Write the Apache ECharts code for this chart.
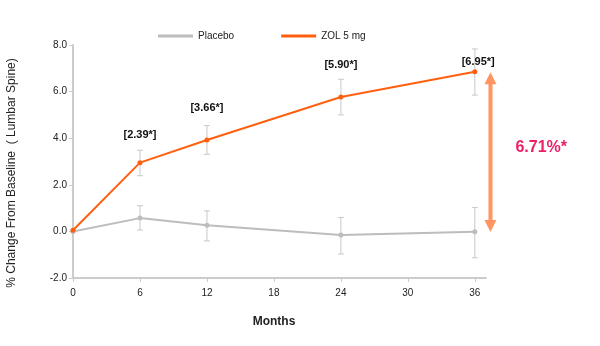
<!DOCTYPE html>
<html><head><meta charset="utf-8">
<script src="https://cdn.jsdelivr.net/npm/echarts@6/dist/echarts.min.js"></script>
<style>html,body{margin:0;padding:0;background:#fff}#c{width:600px;height:346px}</style>
</head><body><div id="c"></div>
<script>
const months = [0, 6, 12, 24, 36];
const xTicks = [0, 6, 12, 18, 24, 30, 36];
const placebo = [0.0, 0.57, 0.26, -0.15, -0.01];
const placeboLow = [0.0, 0.06, -0.41, -0.97, -1.13];
const placeboHigh = [0.0, 1.10, 0.88, 0.60, 1.03];
const zol = [0.05, 2.95, 3.92, 5.77, 6.85];
const zolLow = [0.05, 2.39, 3.31, 5.00, 5.85];
const zolHigh = [0.05, 3.48, 4.54, 6.53, 7.83];
const diffLabels = ['[2.39*]', '[3.66*]', '[5.90*]', '[6.95*]'];
const diffLabelX = [6, 12, 24, 36.3];
const diffLabelY = [4.14, 5.30, 7.14, 7.27];
const arrowX = 37.4, arrowTop = 6.83, arrowBottom = -0.03;
const arrowText = '6.71%*';
const arrowTextY = 3.58;

const font = 'Arial, "Liberation Sans", sans-serif';
const chart = echarts.init(document.getElementById('c'));

function errBars(low, high, color) {
  return {
    type: 'custom', silent: true, z: 1,
    data: months.map((m, i) => [m, low[i], high[i]]).filter((d, i) => i > 0),
    renderItem: function (params, api) {
      const lo = api.coord([api.value(0), api.value(1)]);
      const hi = api.coord([api.value(0), api.value(2)]);
      const w = 3;
      return {
        type: 'group', children: [
          {type: 'line', shape: {x1: lo[0], y1: lo[1], x2: hi[0], y2: hi[1]}, style: {stroke: color, lineWidth: 1}},
          {type: 'line', shape: {x1: lo[0]-w, y1: lo[1], x2: lo[0]+w, y2: lo[1]}, style: {stroke: color, lineWidth: 1}},
          {type: 'line', shape: {x1: hi[0]-w, y1: hi[1], x2: hi[0]+w, y2: hi[1]}, style: {stroke: color, lineWidth: 1}}
        ]
      };
    }
  };
}

chart.setOption({
  animation: false,
  legend: {
    top: 31, left: 158, padding: 0, itemGap: 47, itemWidth: 35, itemHeight: 3,
    icon: 'rect',
    textStyle: {fontFamily: font, fontSize: 10, color: '#222'},
    data: [
      {name: 'Placebo', itemStyle: {color: '#bdbdbd'}},
      {name: 'ZOL 5 mg', itemStyle: {color: '#ff5f0f'}}
    ]
  },
  grid: {left: 73, right: 114, top: 45, bottom: 68, containLabel: false, outerBoundsMode: 'none'},
  xAxis: {
    type: 'value', min: 0, max: 37, interval: 6,
    name: 'Months', nameLocation: 'middle', nameGap: 38,
    nameTextStyle: {fontFamily: font, fontSize: 12, fontWeight: 'bold', color: '#222', padding: [0, 11, 0, 0]},
    axisLine: {onZero: false, lineStyle: {color: '#cccccc', width: 2}},
    axisTick: {show: true, length: 4, lineStyle: {color: '#cccccc'}, customValues: xTicks},
    axisLabel: {fontFamily: font, fontSize: 10, color: '#222', margin: 10, customValues: xTicks},
    splitLine: {show: false}
  },
  yAxis: {
    type: 'value', min: -2, max: 8, interval: 2,
    name: '% Change From Baseline  ( Lumbar Spine)', nameLocation: 'middle', nameGap: 55, nameRotate: 90,
    nameTextStyle: {fontFamily: font, fontSize: 12, fontWeight: 'normal', color: '#222', padding: [0, 23, 0, 0]},
    axisLine: {show: true, onZero: false, lineStyle: {color: '#cccccc', width: 2}},
    axisTick: {show: true, length: 4, lineStyle: {color: '#cccccc'}},
    axisLabel: {fontFamily: font, fontSize: 10, color: '#222', margin: 6, formatter: v => v.toFixed(1)},
    splitLine: {show: false}
  },
  series: [
    errBars(placeboLow, placeboHigh, '#c8c8c8'),
    errBars(zolLow, zolHigh, '#c8c8c8'),
    {
      name: 'Placebo', type: 'line', z: 3,
      data: months.map((m, i) => [m, placebo[i]]),
      symbol: 'circle', symbolSize: 5,
      lineStyle: {color: '#bdbdbd', width: 2},
      itemStyle: {color: '#bdbdbd'}
    },
    {
      name: 'ZOL 5 mg', type: 'line', z: 4,
      data: months.map((m, i) => [m, zol[i]]),
      symbol: 'circle', symbolSize: 5,
      lineStyle: {color: '#ff5f0f', width: 2},
      itemStyle: {color: '#ff5f0f'}
    },
    {
      type: 'custom', silent: true, z: 5, clip: false,
      data: diffLabels.map((t, i) => [diffLabelX[i], diffLabelY[i], t]),
      renderItem: function (params, api) {
        const p = api.coord([api.value(0), api.value(1)]);
        return {type: 'text', x: p[0], y: p[1], style: {
          text: diffLabels[params.dataIndex], fill: '#111', font: 'bold 11px ' + font,
          align: 'center', verticalAlign: 'middle'}};
      }
    },
    {
      type: 'custom', silent: true, z: 6, clip: false,
      data: [[arrowX, arrowTop, arrowBottom, arrowTextY]],
      renderItem: function (params, api) {
        const t = api.coord([api.value(0), api.value(1)]);
        const b = api.coord([api.value(0), api.value(2)]);
        const tx = api.coord([api.value(0), api.value(3)]);
        const c = '#ff9560', hw = 6, hh = 12, sw = 2;
        return {type: 'group', children: [
          {type: 'rect', shape: {x: t[0]-sw, y: t[1]+hh-1, width: sw*2, height: b[1]-t[1]-2*hh+2}, style: {fill: c}},
          {type: 'polygon', shape: {points: [[t[0], t[1]], [t[0]-hw, t[1]+hh], [t[0]+hw, t[1]+hh]]}, style: {fill: c}},
          {type: 'polygon', shape: {points: [[b[0], b[1]], [b[0]-hw, b[1]-hh], [b[0]+hw, b[1]-hh]]}, style: {fill: c}},
          {type: 'text', x: tx[0]+25, y: tx[1], style: {text: arrowText, fill: '#ee1d67',
            font: 'bold 16px ' + font, align: 'left', verticalAlign: 'middle'}}
        ]};
      }
    }
  ]
});
</script></body></html>
